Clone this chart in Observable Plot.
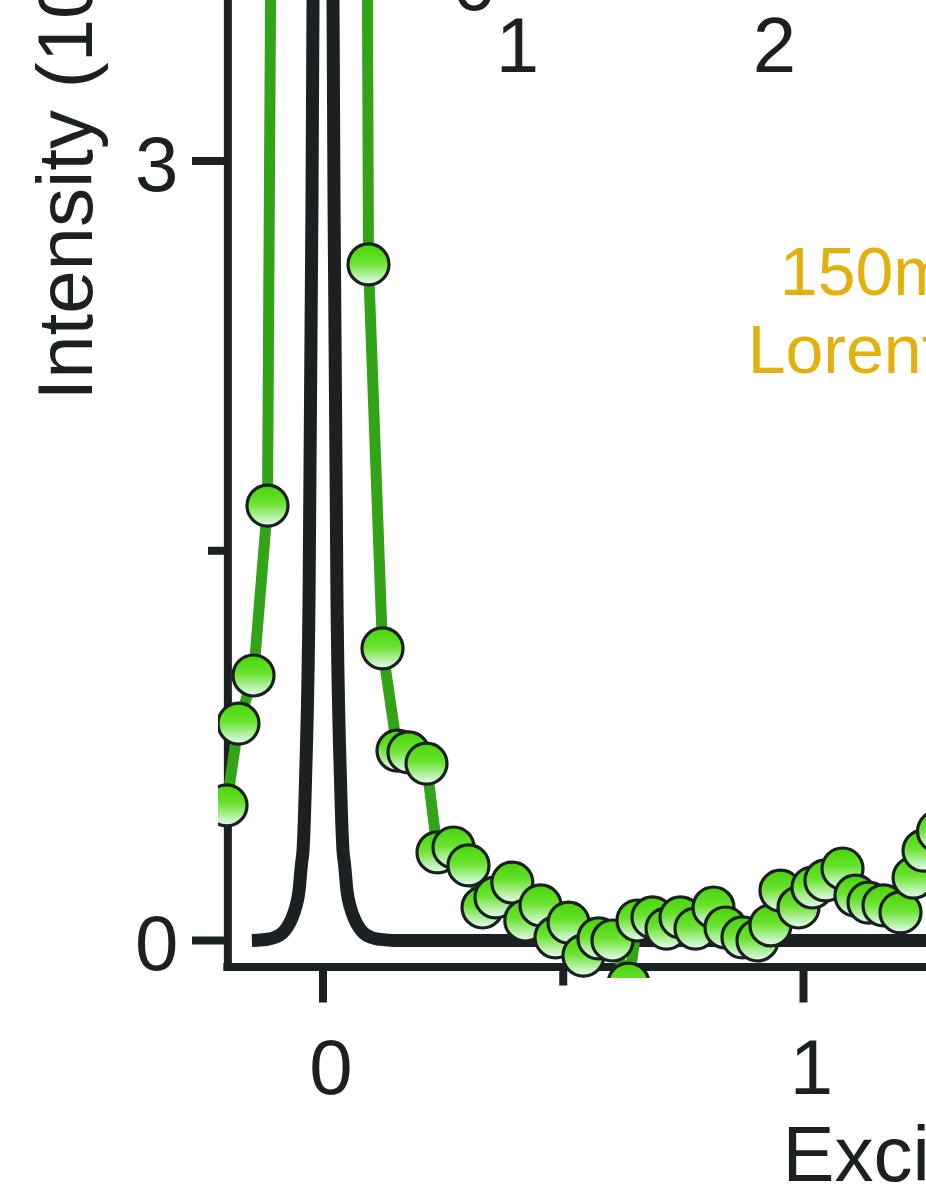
<!DOCTYPE html>
<html>
<head>
<meta charset="utf-8">
<script src="https://cdn.jsdelivr.net/npm/d3@7"></script>
<script src="https://cdn.jsdelivr.net/npm/@observablehq/plot@0.6"></script>
<style>
  html, body { margin: 0; padding: 0; background: #ffffff; overflow: hidden; }
  #chart { width: 926px; height: 1199px; }
</style>
</head>
<body>
<div id="chart"></div>
<script>
// ---- data ----
// measured spectrum (green circles + line); the elastic-peak points run off the top
const measuredEnergy = [-0.2008, -0.1759, -0.1446, -0.1155, -0.086, -0.057, -0.028, 0.0, 0.028, 0.062,
  0.0947, 0.1238, 0.155, 0.178, 0.2154, 0.2383, 0.2716, 0.3028, 0.332, 0.359,
  0.394, 0.421, 0.4527, 0.4839, 0.511, 0.542, 0.5734, 0.6025, 0.6358, 0.6545,
  0.6857, 0.7149, 0.744, 0.7752, 0.8127, 0.8377, 0.873, 0.9043, 0.9313, 0.9521,
  0.9896, 1.0187, 1.0458, 1.0812, 1.1082, 1.1353, 1.1665, 1.2019, 1.229, 1.2497, 1.28];
const measuredIntensity = [0.520, 0.835, 1.020, 1.674, 10.8, 19.0, 26.0, 28.0, 25.0, 18.0,
  2.602, 1.124, 0.731, 0.724, 0.681, 0.339, 0.358, 0.289, 0.127, 0.166,
  0.223, 0.077, 0.135, 0.012, 0.069, -0.058, 0.008, 0.000, -0.166, 0.077,
  0.089, 0.046, 0.089, 0.046, 0.127, 0.050, 0.012, 0.000, 0.058, 0.192,
  0.127, 0.204, 0.231, 0.277, 0.173, 0.146, 0.135, 0.108, 0.242, 0.346, 0.42];

// resolution / elastic line (black)
const resolutionEnergy = [-0.148, -0.12, -0.10, -0.085, -0.075, -0.065, -0.057, -0.05, -0.0447, -0.0416,
  -0.0364, -0.0291, -0.0229, -0.0208, -0.015, -0.007, 0.0, 0.007, 0.015, 0.0208,
  0.0229, 0.0291, 0.0364, 0.0416, 0.0447, 0.05, 0.057, 0.065, 0.075, 0.085,
  0.10, 0.12, 0.148, 0.5, 1.0, 1.3];
const resolutionIntensity = [0.0, 0.004, 0.012, 0.028, 0.05, 0.085, 0.127, 0.19, 0.296, 0.346,
  0.616, 1.31, 2.85, 3.62, 5.0, 6.0, 6.3, 6.0, 5.0, 3.62,
  2.85, 1.31, 0.616, 0.346, 0.296, 0.19, 0.127, 0.085, 0.05, 0.028,
  0.012, 0.004, 0.0, 0.0, 0.0, 0.0];

// axes
const xDomain = [-0.2175, 1.256];
const yDomain = [-0.1463, 3.618];
const xMajorTicks = [0, 1];
const xMinorTicks = [0.5];
const yMajorTicks = [0, 3];
const yMinorTicks = [1.5];
const yAxisLineAt = -0.198;   // x value of the left axis line
const xAxisLineAt = -0.102;   // y value of the bottom axis line

// texts
const yLabel = "Intensity (10³ counts)";
const xLabel = "Excitation energy (eV)";
const fitNote = "150meV\nLorentzian";
const topLabels = ["0", "1", "2"];

// ---- build ----
const measured = measuredEnergy.map((e, i) => ({e, v: measuredIntensity[i]}));
const resolution = resolutionEnergy.map((e, i) => ({e, v: resolutionIntensity[i]}));

const ink = "#1b2023";
const green = "#33a318";
const gold = "#e3b10c";
const font = "'Liberation Sans', Arial, Helvetica, sans-serif";

const chart = Plot.plot({
  width: 926,
  height: 1199,
  marginLeft: 218,
  marginRight: 0,
  marginTop: 0,
  marginBottom: 221,
  style: {fontFamily: font, background: "#ffffff", color: ink, overflow: "hidden"},
  x: {domain: xDomain, axis: null},
  y: {domain: yDomain, axis: null},
  marks: [
    // axis lines
    Plot.ruleX([yAxisLineAt], {x: d => d, y1: xAxisLineAt, y2: yDomain[1], stroke: ink, strokeWidth: 8, strokeLinecap: "square"}),
    Plot.ruleY([xAxisLineAt], {y: d => d, x1: yAxisLineAt, x2: xDomain[1], stroke: ink, strokeWidth: 8, strokeLinecap: "square"}),
    // ticks
    Plot.axisX(xMajorTicks, {anchor: "bottom", tickSize: 36, dy: -11.5, stroke: ink, strokeWidth: 8, tickFormat: () => "", label: null}),
    Plot.axisX(xMinorTicks, {anchor: "bottom", tickSize: 19, dy: -11.5, stroke: ink, strokeWidth: 8, tickFormat: () => "", label: null}),
    Plot.axisY(yMajorTicks, {anchor: "left", tickSize: 36, dx: 10, stroke: ink, strokeWidth: 8, tickFormat: () => "", label: null}),
    Plot.axisY(yMinorTicks, {anchor: "left", tickSize: 20, dx: 10, stroke: ink, strokeWidth: 8, tickFormat: () => "", label: null}),
    // tick labels
    Plot.axisX(xMajorTicks, {anchor: "bottom", tickSize: 0, tickPadding: 60, dx: 8, fontSize: 78, fill: ink, stroke: "none", tickFormat: d => String(d), label: null}),
    Plot.axisY(yMajorTicks, {anchor: "left", tickSize: 0, tickPadding: 40, dy: 5, fontSize: 78, fill: ink, stroke: "none", tickFormat: d => String(d), label: null}),
    // curves
    Plot.line(resolution, {x: "e", y: "v", stroke: ink, strokeWidth: 13, curve: "monotone-x", strokeLinecap: "butt", strokeLinejoin: "round", clip: true}),
    Plot.line(measured, {x: "e", y: "v", stroke: green, strokeWidth: 11, strokeLinejoin: "round", clip: true}),
    Plot.dot(measured, {x: "e", y: "v", r: 20.5, fill: "url(#dotGrad)", stroke: "#1a1f1f", strokeWidth: 3.2, clip: true}),
    // labels
    Plot.text([yLabel], {text: d => d, frameAnchor: "bottom-left", rotate: -90, textAnchor: "start", lineAnchor: "bottom", dx: -127, dy: -578, fontSize: 78, fill: ink}),
    Plot.text([xLabel], {text: d => d, frameAnchor: "bottom-left", textAnchor: "start", lineAnchor: "bottom", dx: 564, dy: 202, fontSize: 78, fill: ink}),
    Plot.text([fitNote], {text: d => d, frameAnchor: "top-left", textAnchor: "middle", lineAnchor: "bottom", lineHeight: 1.14, dx: 688, dy: 372, fontSize: 68, fill: gold}),
    Plot.text([topLabels[0]], {text: d => d, frameAnchor: "top-left", textAnchor: "middle", lineAnchor: "bottom", dx: 256, dy: 9, fontSize: 78, fill: ink}),
    Plot.text([topLabels[1]], {text: d => d, frameAnchor: "top-left", textAnchor: "middle", lineAnchor: "bottom", dx: 299, dy: 71, fontSize: 78, fill: ink}),
    Plot.text([topLabels[2]], {text: d => d, frameAnchor: "top-left", textAnchor: "middle", lineAnchor: "bottom", dx: 556, dy: 71, fontSize: 78, fill: ink})
  ]
});

d3.select(chart).insert("defs", ":first-child").html(
  `<linearGradient id="dotGrad" x1="0" y1="0" x2="0" y2="1">
     <stop offset="0" stop-color="#47d40a"/>
     <stop offset="0.45" stop-color="#6ae22e"/>
     <stop offset="1" stop-color="#e8fcf6"/>
   </linearGradient>`
);

document.getElementById("chart").appendChild(chart);
</script>
</body>
</html>
